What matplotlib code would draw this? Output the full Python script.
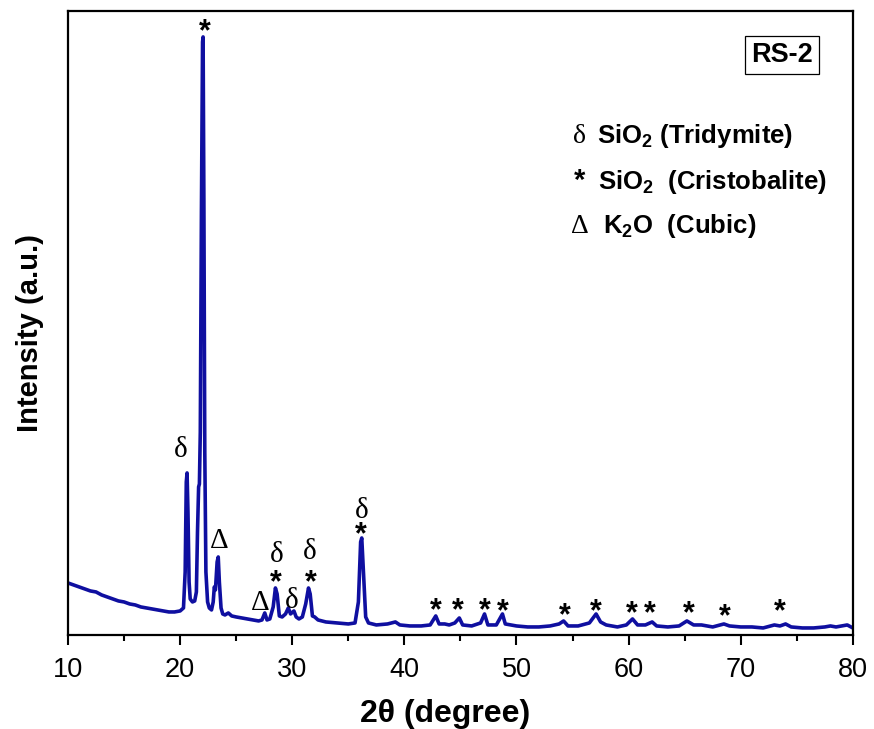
import numpy as np
import matplotlib.pyplot as plt
from matplotlib.transforms import offset_copy

plt.rcParams["font.family"] = ["Liberation Sans", "DejaVu Sans"]
plt.rcParams["mathtext.fontset"] = "custom"
plt.rcParams["mathtext.rm"] = "Liberation Sans:bold"
plt.rcParams["mathtext.bf"] = "Liberation Sans:bold"
plt.rcParams["mathtext.default"] = "bf"

# RS-2 diffractogram, read point by point
two_theta = [
    10.0, 10.5, 11.0, 11.5, 12.0, 12.5, 13.0, 13.5, 14.0, 14.5,
    15.0, 15.5, 16.0, 16.5, 17.0, 17.5, 18.0, 18.5, 19.0, 19.5,
    20.0, 20.3, 20.45, 20.55, 20.62, 20.7, 20.8, 20.9, 21.1, 21.3,
    21.45, 21.55, 21.65, 21.72, 21.8, 21.9, 22.0, 22.05, 22.12, 22.2,
    22.3, 22.45, 22.6, 22.8, 22.95, 23.05, 23.15, 23.3, 23.4, 23.5,
    23.65, 23.8, 24.0, 24.3, 24.6, 25.0, 25.5, 26.0, 26.5, 27.0,
    27.3, 27.55, 27.75, 28.0, 28.3, 28.5, 28.65, 28.85, 29.1, 29.4,
    29.65, 29.85, 30.15, 30.35, 30.6, 30.9, 31.2, 31.45, 31.6, 31.8,
    32.0, 32.3, 33.0, 34.0, 35.0, 35.6, 35.9, 36.1, 36.2, 36.35,
    36.55, 36.8, 37.5, 38.5, 39.2, 39.6, 40.5, 41.5, 42.3, 42.8,
    43.1, 43.6, 44.0, 44.5, 44.9, 45.2, 46.0, 46.8, 47.15, 47.45,
    48.2, 48.75, 49.0, 50.0, 51.0, 52.0, 53.0, 53.8, 54.2, 54.6,
    55.5, 56.5, 57.1, 57.5, 58.0, 59.0, 59.8, 60.35, 60.8, 61.5,
    62.1, 62.5, 63.5, 64.5, 65.2, 65.8, 66.5, 67.5, 68.5, 69.0,
    70.0, 71.0, 72.0, 73.0, 73.5, 74.0, 74.5, 75.5, 76.5, 77.5,
    78.0, 78.5, 79.0, 79.5, 80.0,
]
intensity = [
    52, 50, 48, 46, 44, 43, 40, 38, 36, 34,
    33, 31, 30, 28, 27, 26, 25, 24, 23, 23,
    24, 27, 63, 153, 162, 123, 53, 36, 33, 34,
    43, 103, 148, 151, 203, 423, 593, 598, 433, 183,
    63, 33, 27, 25, 33, 48, 45, 73, 78, 53,
    27, 21, 20, 22, 19, 18, 17, 16, 15, 14,
    15, 22, 15, 16, 28, 47, 41, 19, 18, 21,
    27, 21, 24, 18, 16, 18, 31, 47, 41, 19,
    18, 15, 13, 12, 11, 12, 33, 93, 97, 63,
    18, 12, 10, 11, 13, 10, 9, 9, 10, 19,
    11, 11, 10, 12, 17, 10, 9, 12, 21, 10,
    10, 21, 11, 9, 8, 8, 9, 11, 14, 9,
    9, 12, 21, 13, 10, 8, 10, 16, 10, 10,
    13, 9, 8, 9, 14, 10, 10, 8, 11, 9,
    8, 8, 7, 10, 9, 11, 8, 7, 7, 8,
    9, 8, 9, 10, 7,
]

# phase markers above the peaks: symbol, 2theta, height of the symbol centre
peak_symbols = ["δ", "*", "Δ", "δ", "*", "Δ", "δ", "δ", "*", "δ", "*",
                "*", "*", "*", "*", "*", "*", "*", "*", "*", "*", "*"]
peak_pos = [20.09, 22.23, 23.48, 28.66, 28.57, 27.14, 30.0, 31.6, 31.7, 36.16, 36.16,
            42.83, 44.79, 47.14, 48.78, 54.31, 57.05, 60.33, 61.9, 65.33, 68.57, 73.48]
peak_height = [185, 607, 94, 80, 56, 32, 34, 83, 56, 124, 104,
               28, 28, 28, 27, 23, 27, 25, 25, 25, 22, 27]

legend_symbols = ["δ", "*", "Δ"]
legend_labels = ["SiO$_2$ (Tridymite)", "SiO$_2$  (Cristobalite)", "K$_2$O  (Cubic)"]

fig = plt.figure(figsize=(8.74, 7.29), dpi=100)
ax = fig.add_axes([0.0778, 0.129, 0.898, 0.856])

ax.plot(two_theta, intensity, color="#0f0fa0", lw=2.6, solid_joinstyle="round")

ax.set_xlim(10, 80)
ax.set_ylim(0, 624)
ax.set_xticks(np.arange(10, 81, 10))
ax.set_xticks(np.arange(15, 80, 10), minor=True)
ax.set_yticks([])
ax.tick_params(axis="x", which="major", direction="out", length=7, width=1.5,
               labelsize=19.5, pad=9)
ax.tick_params(axis="x", which="minor", direction="out", length=4.5, width=1.5)
for sp in ax.spines.values():
    sp.set_linewidth(1.6)

ax.set_xlabel("2θ (degree)", fontsize=23, fontweight="bold")
ax.set_ylabel("Intensity (a.u.)", fontsize=21, fontweight="bold")
ax.xaxis.set_label_coords(0.481, -0.102)
ax.yaxis.set_label_coords(-0.031, 0.484)

# the asterisk glyph sits high in its line box, so pull it down a little
star_tr = offset_copy(ax.transData, fig=fig, x=0, y=-3, units="points")
for sym, x, y in zip(peak_symbols, peak_pos, peak_height):
    if sym == "*":
        ax.text(x, y, sym, transform=star_tr, ha="center", va="center",
                fontsize=22, fontweight="bold")
    else:
        ax.text(x, y, sym, ha="center", va="center", fontsize=21,
                family="Liberation Serif")

ax.text(0.91, 0.929, "RS-2", transform=ax.transAxes, ha="center", va="center",
        fontsize=19.5, fontweight="bold",
        bbox=dict(boxstyle="square,pad=0.22", fc="white", ec="black", lw=0.9))

legend_y = [0.789, 0.715, 0.644]
legend_x = [0.674, 0.675, 0.682]
for sym, lab, lx, ly in zip(legend_symbols, legend_labels, legend_x, legend_y):
    if sym == "*":
        ax.text(0.652, ly, sym, transform=ax.transAxes, ha="center",
                va="baseline", fontsize=21, fontweight="bold")
    else:
        ax.text(0.652, ly, sym, transform=ax.transAxes, ha="center", va="baseline",
                fontsize=20, family="Liberation Serif")
    ax.text(lx, ly, lab, transform=ax.transAxes, ha="left", va="baseline",
            fontsize=18.5, fontweight="bold")

fig.savefig("out.png", dpi=100)
